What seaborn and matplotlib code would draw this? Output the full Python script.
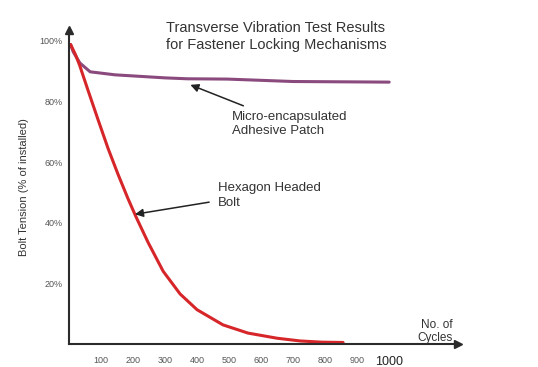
import numpy as np
import pandas as pd
import seaborn as sns
import matplotlib.pyplot as plt

# values
patch_cycles = [5, 13, 34, 66, 144, 300, 369, 494, 700, 1000]
patch_tension = [98.8, 96.4, 92.7, 89.8, 88.8, 87.8, 87.5, 87.4, 86.6, 86.4]

bolt_cycles = [5, 20, 33, 59, 91, 122, 153, 184, 209, 247, 294, 347, 400, 481, 559, 650, 722, 790, 856]
bolt_tension = [98.8, 95.5, 92.0, 83.8, 73.9, 64.5, 56.0, 48.0, 42.0, 33.5, 24.0, 16.5, 11.3,
                6.3, 3.6, 1.9, 1.0, 0.6, 0.5]

x_ticks = [100, 200, 300, 400, 500, 600, 700, 800, 900, 1000]
y_ticks = [20, 40, 60, 80, 100]

df = pd.concat([
    pd.DataFrame({'cycles': patch_cycles, 'tension': patch_tension, 'series': 'patch'}),
    pd.DataFrame({'cycles': bolt_cycles, 'tension': bolt_tension, 'series': 'bolt'}),
])

sns.set_style('white')
plt.rcParams['font.family'] = ['Liberation Sans', 'DejaVu Sans']

fig = plt.figure(figsize=(5.38, 3.67), dpi=100)
ax = fig.add_axes([0.1283, 0.0627, 0.723, 0.8556])

sns.lineplot(data=df, x='cycles', y='tension', hue='series', sort=False,
             palette={'patch': '#8a4a7e', 'bolt': '#d6262a'}, linewidth=2.2,
             legend=False, ax=ax)
for ln in ax.lines:
    ln.set_solid_joinstyle('round')
    ln.set_solid_capstyle('round')

ax.set_xlim(0, 1215)
ax.set_ylim(0, 103.6)
sns.despine(ax=ax)
for s in ['left', 'bottom']:
    ax.spines[s].set_color('#2b2b2b')
    ax.spines[s].set_linewidth(1.5)

# arrow heads on the axes
ax.plot(1, 0, '>', color='#2b2b2b', ms=6, transform=ax.transAxes, clip_on=False)
ax.plot(0, 1, '^', color='#2b2b2b', ms=6, transform=ax.transAxes, clip_on=False)

ax.set_xticks(x_ticks)
ax.set_xticklabels([str(t) for t in x_ticks])
ax.set_yticks(y_ticks)
ax.set_yticklabels([f'{t}%' for t in y_ticks])
ax.tick_params(axis='both', direction='inout', length=7, width=1.3, color='#2b2b2b',
               labelsize=6.5, labelcolor='#555555')
ax.tick_params(axis='x', pad=5)
ax.tick_params(axis='y', pad=1)
last = ax.get_xticklabels()[-1]
last.set_fontsize(9)
last.set_color('#222222')

ax.set_xlabel('')
ax.set_ylabel('Bolt Tension (% of installed)', fontsize=8, color='#333333', labelpad=8)

fig.text(0.513, 0.9, 'Transverse Vibration Test Results\nfor Fastener Locking Mechanisms',
         ha='center', va='center', fontsize=10.5, color='#333333', linespacing=1.3)

ax.annotate('No. of\nCycles', xy=(1.0, 0.0), xycoords='axes fraction',
            xytext=(-4, 9), textcoords='offset points', ha='right', va='center',
            fontsize=8.5, color='#333333', linespacing=1.1)

ax.annotate('Micro-encapsulated\nAdhesive Patch', xy=(379, 85.5), xytext=(510, 72.5),
            ha='left', va='center', fontsize=9.5, color='#333333', linespacing=1.25,
            arrowprops=dict(arrowstyle='-|>', color='#222222', lw=1.1,
                            shrinkA=4, shrinkB=0, mutation_scale=12))
ax.annotate('Hexagon Headed\nBolt', xy=(206, 42.8), xytext=(465, 49.0),
            ha='left', va='center', fontsize=9.5, color='#333333', linespacing=1.25,
            arrowprops=dict(arrowstyle='-|>', color='#222222', lw=1.1,
                            shrinkA=4, shrinkB=0, mutation_scale=12,
                            relpos=(0, 0.3)))

fig.savefig('out.png', dpi=100)
